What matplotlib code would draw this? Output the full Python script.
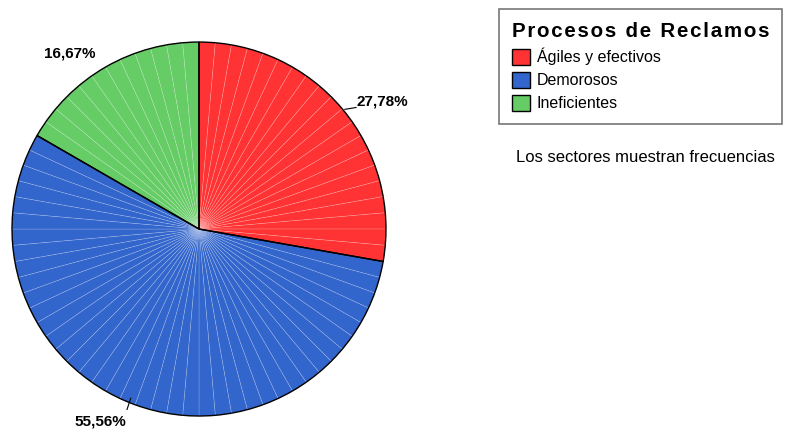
import matplotlib.pyplot as plt
from matplotlib.patches import Patch

# frecuencias por categoria
categorias = ["Ágiles y efectivos", "Demorosos", "Ineficientes"]
frecuencias = [5, 10, 3]
colores = ["#FF3333", "#3366CC", "#66CC66"]
titulo = "Procesos de Reclamos"
nota = "Los sectores muestran frecuencias"

# facetas por sector (lineas claras radiales)
facetas = [20, 40, 12]

plt.rcParams['font.family'] = ['Liberation Sans', 'DejaVu Sans']

fig = plt.figure(figsize=(7.85, 4.32), dpi=100)
ax = fig.add_axes([0.0153, 0.037, 0.4764, 0.8657])

# sectores subdivididos para las lineas finas
sub_vals, sub_cols = [], []
for f, n, c in zip(frecuencias, facetas, colores):
    sub_vals += [f / n] * n
    sub_cols += [c] * n
ax.pie(sub_vals, colors=sub_cols, startangle=90, counterclock=False,
       radius=1.0, wedgeprops=dict(edgecolor=(1, 1, 1, 0.22), linewidth=0.5))

# contorno negro de cada sector
wedges, _ = ax.pie(frecuencias, startangle=90, counterclock=False, radius=1.0,
                   wedgeprops=dict(facecolor='none', edgecolor='black', linewidth=1.0))
ax.set_xlim(-1.0, 1.0)
ax.set_ylim(-1.0, 1.0)
ax.set_aspect('equal')

# etiquetas de porcentaje
total = sum(frecuencias)
pcts = [f"{100 * f / total:.2f}%".replace('.', ',') for f in frecuencias]
label_pos = [(0.98, 0.68), (-0.53, -1.03), (-0.69, 0.94)]
leader = [((0.78, 0.64), (0.84, 0.65)), ((-0.365, -0.905), (-0.385, -0.965)), None]
for p, pos, ld in zip(pcts, label_pos, leader):
    ax.text(pos[0], pos[1], p, ha='center', va='center', fontsize=11,
            fontweight='bold', clip_on=False)
    if ld is not None:
        ax.plot([ld[0][0], ld[1][0]], [ld[0][1], ld[1][1]], color='black',
                lw=0.8, clip_on=False)

# leyenda (titulo con espaciado entre letras)
titulo_esp = "\u200a".join(titulo)
handles = [Patch(facecolor=c, edgecolor='black', linewidth=1.0) for c in colores]
leg = fig.legend(handles, categorias, loc='upper left', bbox_to_anchor=(0.636, 0.979),
                 title=titulo_esp, title_fontproperties={'weight': 'bold', 'size': 14.8},
                 alignment='left', fontsize=11.5, frameon=True, fancybox=False,
                 handlelength=1.15, handleheight=1.15, handletextpad=0.4,
                 labelspacing=0.42, borderpad=0.8, borderaxespad=0)
leg.get_frame().set_edgecolor('#555555')
leg.get_frame().set_linewidth(1.2)

fig.text(0.657, 0.635, nota, fontsize=12, va='center')

fig.savefig("out.png", dpi=100)
